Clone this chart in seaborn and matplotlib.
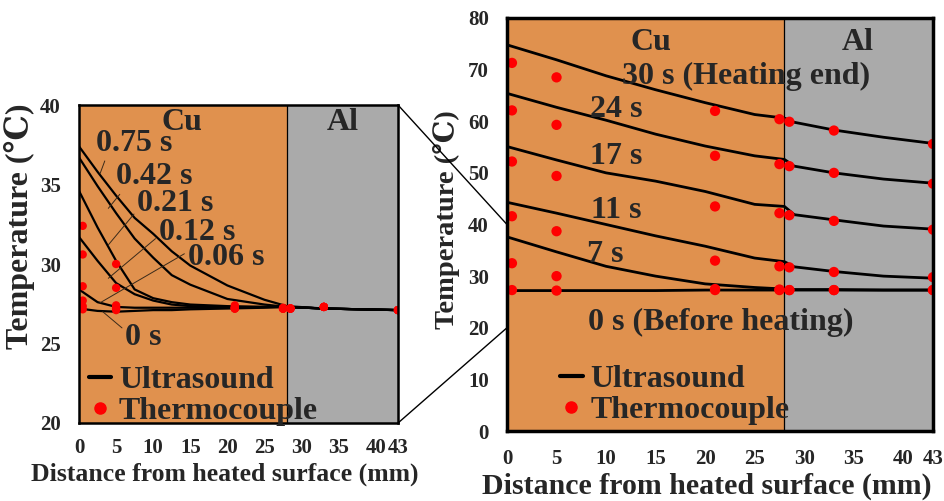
import pandas as pd
import seaborn as sns
import matplotlib.pyplot as plt
from matplotlib.lines import Line2D
from matplotlib.patches import ConnectionPatch

# --- data: left panel (first second of heating) ---
x_us_left = [0, 2.5, 5, 7.5, 10, 12.5, 15, 20, 25, 28, 33, 38, 43]
times_left = ['0.75 s', '0.42 s', '0.21 s', '0.12 s', '0.06 s', '0 s']
us_left_075 = [37.4, 35.8, 34.3, 32.9, 31.9, 30.8, 29.9, 28.65, 27.75, 27.35, 27.2, 27.15, 27.1]
us_left_042 = [36.7, 34.9, 33.2, 31.6, 30.4, 29.3, 28.7, 27.8, 27.45, 27.3, 27.2, 27.15, 27.1]
us_left_021 = [34.6, 32.3, 30.2, 28.4, 27.85, 27.6, 27.45, 27.35, 27.3, 27.3, 27.2, 27.15, 27.1]
us_left_012 = [31.7, 30.2, 28.8, 28.1, 27.7, 27.45, 27.35, 27.3, 27.3, 27.3, 27.2, 27.15, 27.1]
us_left_006 = [28.4, 27.6, 27.3, 27.25, 27.25, 27.25, 27.25, 27.25, 27.3, 27.3, 27.2, 27.15, 27.1]
us_left_000 = [27.2, 27.05, 27.0, 27.05, 27.1, 27.1, 27.15, 27.2, 27.25, 27.3, 27.2, 27.15, 27.1]

x_tc = [0.5, 5, 21, 27.5, 28.5, 33, 43]
tc_left_075 = [32.4, 30.0, 27.4, 27.25, 27.2, 27.3, 27.1]
tc_left_042 = [30.6, 28.5, 27.3, 27.2, 27.2, 27.3, 27.1]
tc_left_021 = [28.6, 27.4, 27.25, 27.2, 27.2, 27.3, 27.1]
tc_left_012 = [27.7, 27.3, 27.2, 27.2, 27.2, 27.3, 27.1]
tc_left_006 = [27.35, 27.2, 27.2, 27.2, 27.2, 27.3, 27.1]
tc_left_000 = [27.15, 27.1, 27.2, 27.2, 27.2, 27.3, 27.1]

# --- data: right panel (whole heating) ---
x_us_right = [0, 5, 10, 15, 20, 25, 28, 29, 33, 38, 43]
times_right = ['30 s', '24 s', '17 s', '11 s', '7 s', '0 s']
us_right_30 = [74.8, 71.9, 68.8, 66.1, 63.6, 61.3, 60.6, 59.8, 58.3, 56.9, 55.7]
us_right_24 = [65.4, 62.7, 60.2, 57.5, 55.2, 53.3, 52.6, 51.3, 50.0, 48.8, 48.0]
us_right_17 = [55.1, 52.5, 50.0, 48.4, 46.4, 43.9, 43.5, 41.9, 40.9, 39.7, 39.1]
us_right_11 = [44.3, 42.2, 40.0, 37.8, 35.8, 33.5, 32.8, 31.8, 30.9, 30.0, 29.6]
us_right_07 = [37.6, 34.7, 31.9, 30.0, 28.5, 27.8, 27.5, 27.4, 27.4, 27.3, 27.3]
us_right_00 = [27.2, 27.2, 27.2, 27.2, 27.3, 27.3, 27.3, 27.3, 27.3, 27.3, 27.3]

tc_right_30 = [71.3, 68.5, 62.0, 60.4, 59.9, 58.2, 55.6]
tc_right_24 = [62.1, 59.3, 53.3, 51.7, 51.3, 50.0, 47.9]
tc_right_17 = [52.2, 49.4, 43.5, 42.2, 41.8, 40.7, 39.0]
tc_right_11 = [41.6, 38.7, 33.0, 31.9, 31.7, 30.8, 29.8]
tc_right_07 = [32.5, 30.0, 27.5, 27.4, 27.3, 27.3, 27.3]
tc_right_00 = [27.3, 27.2, 27.3, 27.3, 27.3, 27.3, 27.3]

cu_end = 28
x_ticks_labels = [0, 5, 10, 15, 20, 25, 30, 35, 40, 43]

# labels in left panel: text, text centre, point on curve for leader line
left_labels = ['0.75 s', '0.42 s', '0.21 s', '0.12 s', '0.06 s', '0 s']
left_label_xy = [(7.4, 37.6), (10.2, 35.5), (13.0, 33.8), (15.9, 32.0), (19.8, 30.4), (8.7, 25.35)]
left_leader_xy = [(2.85, 35.7), (3.95, 33.5), (3.95, 31.2), (3.95, 29.1), (2.8, 27.55), (3.2, 27.0)]
left_relpos = [(0.17, 0.25), (0.15, 0.23), (0.03, 0.37), (0.03, 0.44), (0.0, 0.7), (0.0, 0.75)]

right_labels = ['30 s (Heating end)', '24 s', '17 s', '11 s', '7 s', '0 s (Before heating)']
right_label_xy = [(24.1, 68.6), (11.0, 62.2), (11.0, 53.1), (11.0, 42.8), (9.9, 34.1), (21.6, 21.1)]


def long_df(x, names, series):
    rows = []
    for n, vals in zip(names, series):
        for xi, v in zip(x, vals):
            rows.append({'x': xi, 'T': v, 'time': n})
    return pd.DataFrame(rows)


df_us_l = long_df(x_us_left, times_left, [us_left_075, us_left_042, us_left_021,
                                          us_left_012, us_left_006, us_left_000])
df_tc_l = long_df(x_tc, times_left, [tc_left_075, tc_left_042, tc_left_021,
                                     tc_left_012, tc_left_006, tc_left_000])
df_us_r = long_df(x_us_right, times_right, [us_right_30, us_right_24, us_right_17,
                                            us_right_11, us_right_07, us_right_00])
df_tc_r = long_df(x_tc, times_right, [tc_right_30, tc_right_24, tc_right_17,
                                      tc_right_11, tc_right_07, tc_right_00])

sns.set_style('white')
plt.rcParams['font.family'] = ['Liberation Serif', 'DejaVu Serif', 'DejaVu Sans']
plt.rcParams['font.weight'] = 'bold'
plt.rcParams['axes.labelweight'] = 'bold'

cu_col = '#E0914E'
al_col = '#AAAAAA'

fig = plt.figure(figsize=(9.45, 5.01), dpi=100)
ax1 = fig.add_axes([0.0836, 0.1557, 0.3376, 0.6347])
ax2 = fig.add_axes([0.5365, 0.1397, 0.4508, 0.8244])


def setup(ax, ylim, yticks, spine_w, pad_x, pad_y):
    ax.axvspan(0, cu_end, color=cu_col, lw=0, zorder=0)
    ax.axvspan(cu_end, 43, color=al_col, lw=0, zorder=0)
    ax.axvline(cu_end, color='k', lw=0.9, zorder=1)
    ax.set_xlim(0, 43)
    ax.set_ylim(*ylim)
    ax.set_xticks(x_ticks_labels)
    ax.set_yticks(yticks)
    ax.tick_params(direction='in', length=4, width=1.2, labelsize=15, color='k')
    ax.tick_params(axis='x', pad=pad_x)
    ax.tick_params(axis='y', pad=pad_y)
    for sp in ax.spines.values():
        sp.set_linewidth(spine_w)
        sp.set_color('k')
        sp.set_zorder(5)


setup(ax1, (20, 40), [20, 25, 30, 35, 40], 1.8, 11, 13)
setup(ax2, (0, 80), list(range(0, 81, 10)), 2.5, 13, 13)

sns.lineplot(data=df_us_l, x='x', y='T', units='time', estimator=None, color='k',
             lw=1.6, ax=ax1, zorder=3, legend=False)
sns.scatterplot(data=df_tc_l, x='x', y='T', color='red', s=36, edgecolor='none',
                ax=ax1, zorder=4, legend=False)
sns.lineplot(data=df_us_r, x='x', y='T', units='time', estimator=None, color='k',
             lw=2.0, ax=ax2, zorder=3, legend=False)
sns.scatterplot(data=df_tc_r, x='x', y='T', color='red', s=55, edgecolor='none',
                ax=ax2, zorder=4, legend=False)

txt = dict(fontsize=23, fontweight='bold', ha='center', va='center', zorder=6)

ax1.text(13.9, 38.9, 'Cu', **txt)
ax1.text(35.6, 38.9, 'Al', **txt)
for lab, xy, pt, rp in zip(left_labels, left_label_xy, left_leader_xy, left_relpos):
    ax1.annotate(lab, xy=pt, xytext=xy, textcoords='data',
                 arrowprops=dict(arrowstyle='-', color='#3a2a1a', lw=0.7,
                                 relpos=rp, shrinkA=0, shrinkB=0), **txt)

ax2.text(14.5, 75.2, 'Cu', **txt)
ax2.text(35.4, 75.2, 'Al', **txt)
for lab, xy in zip(right_labels, right_label_xy):
    ax2.text(xy[0], xy[1], lab, **txt)

handles = [Line2D([], [], color='k', lw=3),
           Line2D([], [], marker='o', color='red', ls='none', markersize=8)]
leg_kw = dict(frameon=False, fontsize=23, handlelength=0.7, handletextpad=0.25,
              labelspacing=0.05, borderpad=0, borderaxespad=0, loc='lower left')
ax1.legend(handles, ['Ultrasound', 'Thermocouple'], bbox_to_anchor=(0.03, -0.01), **leg_kw)
ax2.legend(handles, ['Ultrasound', 'Thermocouple'], bbox_to_anchor=(0.125, 0.015), **leg_kw)

ax1.set_xlabel('Distance from heated surface (mm)', fontsize=18.5, fontweight='bold')
ax1.set_ylabel('Temperature (℃)', fontsize=23, fontweight='bold')
ax1.xaxis.set_label_coords(0.456, -0.125)
ax1.yaxis.set_label_coords(-0.185, 0.62)
ax2.set_xlabel('Distance from heated surface (mm)', fontsize=21.5, fontweight='bold')
ax2.set_ylabel('Temperature (℃)', fontsize=20.5, fontweight='bold')
ax2.xaxis.set_label_coords(0.47, -0.102)
ax2.yaxis.set_label_coords(-0.141, 0.513)
ax2.yaxis.label.set_va('center')
ax1.yaxis.label.set_va('center')

# zoom connection lines
for yv in (40, 20):
    con = ConnectionPatch(xyA=(43, yv), coordsA=ax1.transData,
                          xyB=(0, yv), coordsB=ax2.transData, color='k', lw=1.0)
    fig.add_artist(con)

fig.savefig('out.png', dpi=100)
